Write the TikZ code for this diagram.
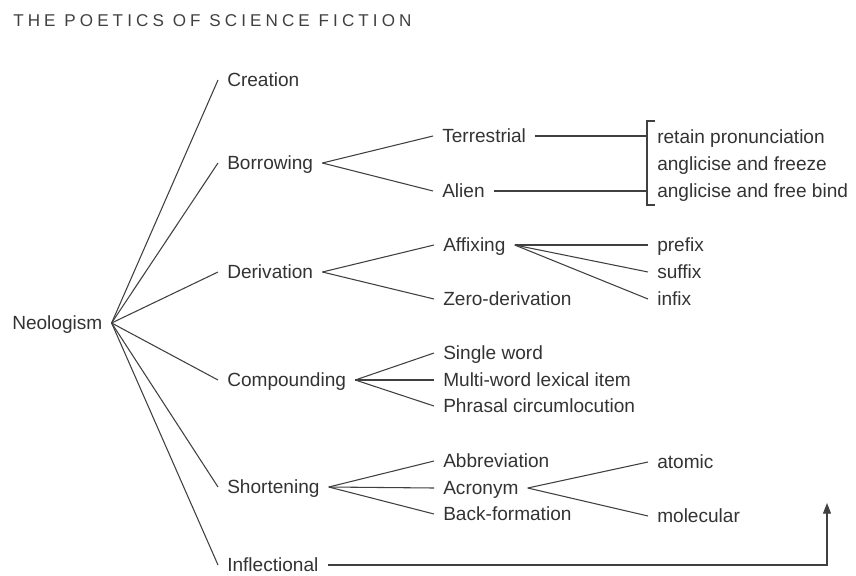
\documentclass[tikz,border=0pt]{standalone}
\usepackage{fontspec}
\setmainfont{Liberation Sans}
\newfontfamily\titlefont[LetterSpace=24]{Liberation Sans}
\usetikzlibrary{arrows.meta}
\begin{document}
\begin{tikzpicture}[x=0.75pt,y=-0.75pt]
\tikzset{
  lbl/.style={anchor=west, inner xsep=6.75pt, inner ysep=0pt, text height=10.2pt, text depth=0pt,
    font=\fontsize{14.3pt}{17pt}\selectfont, text=black!80},
  conn/.style={draw=black!75, line width=0.8pt}
}
\useasboundingbox (0,0) rectangle (856,575);
\node[anchor=west, inner sep=0pt, font=\titlefont\fontsize{12.8pt}{14pt}\selectfont, text=black!75] (title) at (13,21) {THE POETICS OF SCIENCE FICTION};
% level 0 and 1
\node[lbl] (neo) at (3,323) {Neologism};
\node[lbl] (cre) at (218,80) {Creation};
\node[lbl] (bor) at (218,163) {Borrowing};
\node[lbl] (der) at (218,272) {Derivation};
\node[lbl] (com) at (218,380) {Compounding};
\node[lbl] (sho) at (218,487) {Shortening};
\node[lbl] (inf) at (218,565) {Inflectional};
% level 2
\node[lbl] (ter) at (433,136) {Terrestrial};
\node[lbl] (ali) at (433,191) {Alien};
\node[lbl] (aff) at (434,245) {Affixing};
\node[lbl] (zer) at (434,299) {Zero-derivation};
\node[lbl] (sin) at (434,353) {Single word};
\node[lbl] (mul) at (434,380) {Multi-word lexical item};
\node[lbl] (phr) at (434,406) {Phrasal circumlocution};
\node[lbl] (abb) at (434,461) {Abbreviation};
\node[lbl] (acr) at (434,488) {Acronym};
\node[lbl] (bac) at (434,514) {Back-formation};
% level 3
\node[lbl] (r1) at (648,137) {retain pronunciation};
\node[lbl] (r2) at (648,164) {anglicise and freeze};
\node[lbl] (r3) at (648,191) {anglicise and free bind};
\node[lbl] (pre) at (648,245) {prefix};
\node[lbl] (suf) at (648,272) {suffix};
\node[lbl] (inx) at (648,299) {infix};
\node[lbl] (ato) at (648,462) {atomic};
\node[lbl] (mol) at (648,516) {molecular};
% connectors
\foreach \t in {cre,bor,der,com,sho,inf} \draw[conn] (neo.east) -- (\t.west);
\foreach \t in {ter,ali} \draw[conn] (bor.east) -- (\t.west);
\foreach \t in {aff,zer} \draw[conn] (der.east) -- (\t.west);
\foreach \t in {sin,mul,phr} \draw[conn] (com.east) -- (\t.west);
\foreach \t in {abb,acr,bac} \draw[conn] (sho.east) -- (\t.west);
\foreach \t in {pre,suf,inx} \draw[conn] (aff.east) -- (\t.west);
\foreach \t in {ato,mol} \draw[conn] (acr.east) -- (\t.west);
% bracket
\coordinate (brtop) at (647,121);
\coordinate (brbot) at (647,205);
\draw[conn] ([xshift=6pt]brtop) -- (brtop) -- (brbot) -- ([xshift=6pt]brbot);
\draw[conn] (ter.east) -- (ter.east -| brtop);
\draw[conn] (ali.east) -- (ali.east -| brtop);
% inflectional arrow
\coordinate (corner) at (827,567);
\coordinate (tip) at (827,503);
\draw[conn, -{Triangle[length=8pt,width=6pt]}] (inf.east) -- (inf.east -| corner) -- (tip);
\end{tikzpicture}
\end{document}
